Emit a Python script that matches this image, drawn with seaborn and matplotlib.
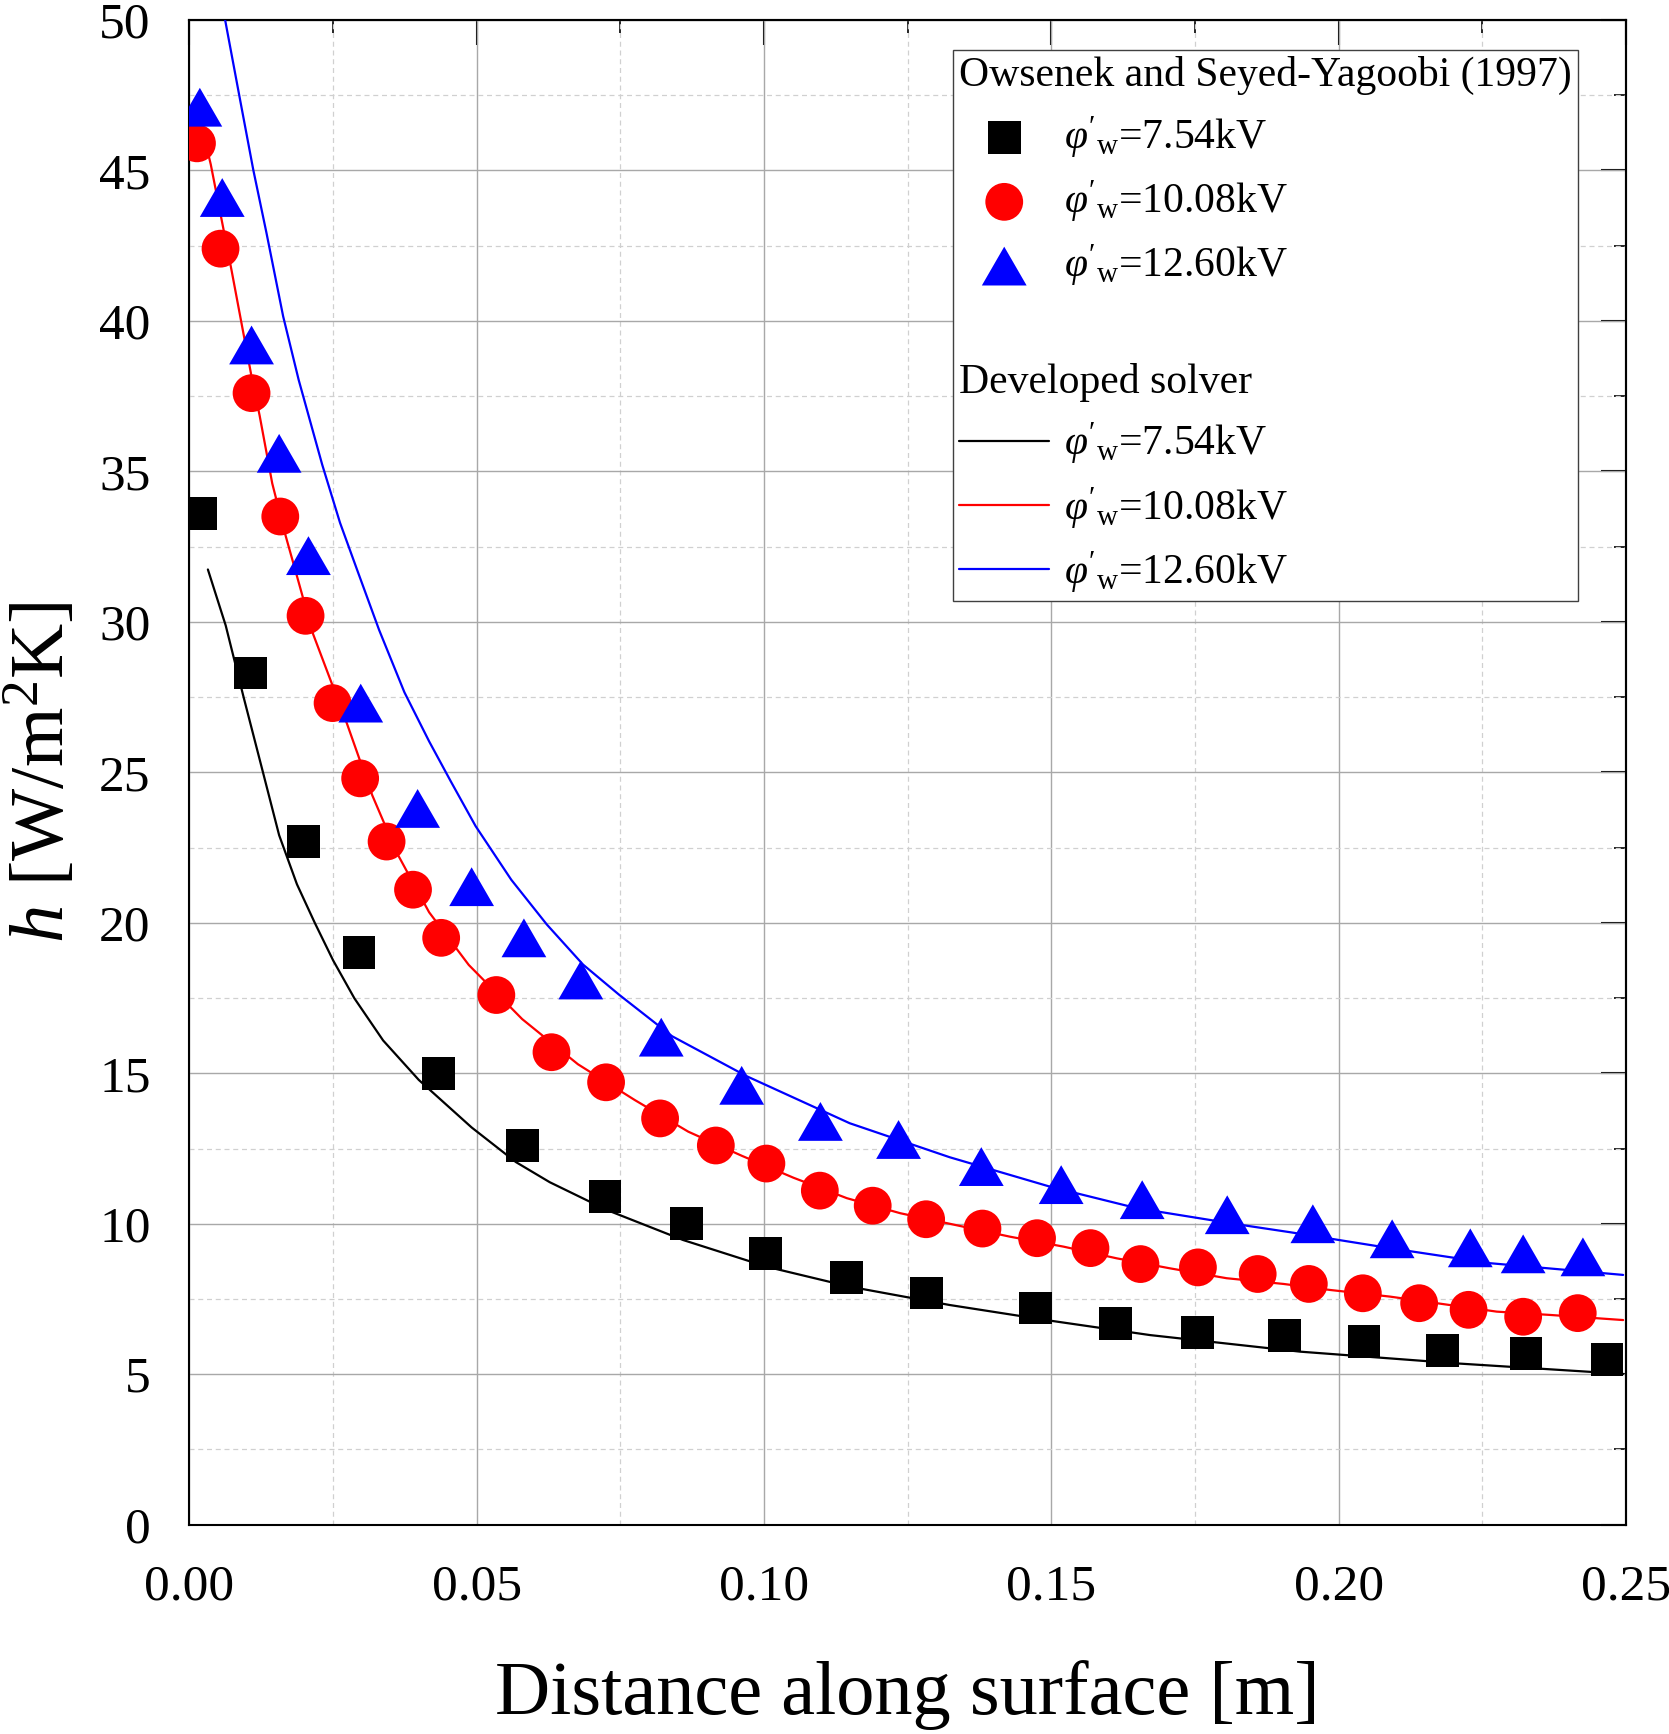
import matplotlib
matplotlib.use("Agg")
import matplotlib.pyplot as plt
import seaborn as sns
from matplotlib.lines import Line2D
from matplotlib.ticker import MultipleLocator, FormatStrFormatter

# Owsenek and Seyed-Yagoobi (1997) - measured points
exp_754_x = [0.0019, 0.0106, 0.0199, 0.0295, 0.0434, 0.0580, 0.0723, 0.0865, 0.1003, 0.1144,
             0.1282, 0.1473, 0.1612, 0.1755, 0.1905, 0.2044, 0.2181, 0.2326, 0.2467]
exp_754_h = [33.6, 28.3, 22.7, 19.0, 15.0, 12.6, 10.9, 10.0, 9.0, 8.2,
             7.7, 7.2, 6.7, 6.4, 6.3, 6.1, 5.8, 5.7, 5.5]

exp_1008_x = [0.0013, 0.0054, 0.0108, 0.0158, 0.0202, 0.0249, 0.0297, 0.0343, 0.0389, 0.0438,
              0.0534, 0.0630, 0.0725, 0.0819, 0.0916, 0.1004, 0.1097, 0.1189, 0.1282, 0.1380,
              0.1475, 0.1568, 0.1655, 0.1755, 0.1859, 0.1948, 0.2042, 0.2140, 0.2226, 0.2321, 0.2416]
exp_1008_h = [45.9, 42.4, 37.6, 33.5, 30.2, 27.3, 24.8, 22.7, 21.1, 19.5,
              17.6, 15.7, 14.7, 13.5, 12.6, 12.0, 11.1, 10.6, 10.15, 9.84,
              9.52, 9.19, 8.66, 8.55, 8.33, 8.0, 7.69, 7.36, 7.14, 6.91, 7.03]

exp_1260_x = [0.0018, 0.0057, 0.0108, 0.0156, 0.0207, 0.0298, 0.0397, 0.0491, 0.0582, 0.0681,
              0.0821, 0.0961, 0.1098, 0.1234, 0.1378, 0.1517, 0.1658, 0.1806, 0.1955, 0.2093,
              0.2229, 0.2321, 0.2425]
exp_1260_h = [47.1, 44.1, 39.2, 35.6, 32.2, 27.3, 23.8, 21.2, 19.5, 18.1,
              16.2, 14.6, 13.4, 12.8, 11.9, 11.3, 10.8, 10.3, 10.0, 9.5,
              9.2, 9.0, 8.9]

# Developed solver - curves
sim_754_x = [0.0032, 0.0063, 0.0094, 0.0128, 0.0156, 0.0187, 0.0218, 0.0250, 0.0287, 0.0337,
             0.0399, 0.0491, 0.0568, 0.0627, 0.0726, 0.0859, 0.1005, 0.1149, 0.1323, 0.1498,
             0.1672, 0.1933, 0.2205, 0.2495]
sim_754_h = [31.74, 29.88, 27.51, 24.99, 22.91, 21.28, 20.0, 18.75, 17.49, 16.09,
             14.78, 13.2, 12.05, 11.38, 10.46, 9.46, 8.57, 7.91, 7.30, 6.78,
             6.30, 5.75, 5.36, 5.01]

sim_1008_x = [0.0022, 0.0037, 0.0073, 0.0108, 0.0122, 0.0144, 0.0166, 0.0187, 0.0215, 0.0274,
              0.0318, 0.0361, 0.0417, 0.0486, 0.0579, 0.0676, 0.0775, 0.0868, 0.0961, 0.1051,
              0.1144, 0.1237, 0.1323, 0.1428, 0.1521, 0.1614, 0.1706, 0.1805, 0.1904, 0.1985,
              0.2089, 0.2182, 0.2275, 0.2368, 0.2495]
sim_1008_h = [46.4, 45.2, 41.7, 38.15, 36.86, 34.6, 32.95, 31.52, 29.6, 26.62,
              24.24, 22.32, 20.35, 18.6, 16.8, 15.3, 14.11, 13.06, 12.26, 11.53,
              10.85, 10.35, 10.0, 9.57, 9.24, 8.85, 8.52, 8.19, 8.0, 7.8,
              7.58, 7.33, 7.08, 6.97, 6.80]

sim_1260_x = [0.0055, 0.0062, 0.0088, 0.0111, 0.0134, 0.0163, 0.0190, 0.0231, 0.0262, 0.0293,
              0.0330, 0.0374, 0.0417, 0.0455, 0.0498, 0.0560, 0.0622, 0.0685, 0.0747, 0.0840,
              0.0970, 0.1149, 0.1323, 0.1498, 0.1648, 0.1817, 0.1915, 0.2089, 0.2263, 0.2495]
sim_1260_h = [50.8, 50.0, 47.35, 45.02, 42.92, 40.15, 38.04, 35.22, 33.29, 31.66,
              29.73, 27.66, 26.03, 24.69, 23.21, 21.43, 19.94, 18.61, 17.62, 16.23,
              14.90, 13.34, 12.21, 11.23, 10.52, 10.0, 9.72, 9.19, 8.69, 8.30]

series_labels = [r"$\varphi'_{\mathrm{w}}$=7.54kV",
                 r"$\varphi'_{\mathrm{w}}$=10.08kV",
                 r"$\varphi'_{\mathrm{w}}$=12.60kV"]
colors = ["black", "red", "blue"]

sns.set_style("white")
plt.rcParams["font.family"] = ["Liberation Serif", "DejaVu Serif"]
plt.rcParams["mathtext.fontset"] = "custom"
plt.rcParams["mathtext.rm"] = "Liberation Serif"
plt.rcParams["mathtext.it"] = "Liberation Serif:italic"
plt.rcParams["mathtext.bf"] = "Liberation Serif:bold"
for key in ("text.color", "axes.labelcolor", "xtick.color", "ytick.color"):
    plt.rcParams[key] = "black"

fig = plt.figure(figsize=(16.69, 17.34), dpi=100)
ax = fig.add_axes([0.11354, 0.1207, 0.8607, 0.8678])

# solver curves
sim = [(sim_754_x, sim_754_h), (sim_1008_x, sim_1008_h), (sim_1260_x, sim_1260_h)]
line_handles = []
for (xs, hs), c, lab in zip(sim, colors, series_labels):
    sns.lineplot(x=xs, y=hs, color=c, linewidth=1.6, ax=ax, sort=False,
                 estimator=None, zorder=3, label=lab, legend=False)
    line_handles.append(ax.lines[-1])

# experimental markers
tri = [(-22.5, -19.5), (22.5, -19.5), (0.0, 19.5)]
exp = [(exp_754_x, exp_754_h, "s", 560), (exp_1008_x, exp_1008_h, "o", 740),
       (exp_1260_x, exp_1260_h, tri, 1040)]
mark_handles = []
for (xs, hs, m, s), c, lab in zip(exp, colors, series_labels):
    sns.scatterplot(x=xs, y=hs, marker=m, s=s, color=c, edgecolor="none",
                    linewidth=0, ax=ax, zorder=4, label=lab, legend=False)
    mark_handles.append(ax.collections[-1])

ax.set_xlim(0, 0.25)
ax.set_ylim(0, 50)
ax.xaxis.set_major_locator(MultipleLocator(0.05))
ax.xaxis.set_minor_locator(MultipleLocator(0.025))
ax.yaxis.set_major_locator(MultipleLocator(5))
ax.yaxis.set_minor_locator(MultipleLocator(2.5))
ax.xaxis.set_major_formatter(FormatStrFormatter("%.2f"))

ax.set_axisbelow(True)
ax.grid(which="major", color="#a8a8a8", linewidth=1.0, linestyle="-")
ax.grid(which="minor", color="#d0d0d0", linewidth=0.9, linestyle=(0, (4, 3)))

for sp in ax.spines.values():
    sp.set_color("black")
    sp.set_linewidth(1.5)

ax.tick_params(which="both", direction="out", top=False, right=False,
               labelsize=37, pad=10, color="black")
ax.tick_params(which="major", length=18, width=1.5)
ax.tick_params(which="minor", length=9, width=1.2)

top = ax.secondary_xaxis("top")
top.xaxis.set_major_locator(MultipleLocator(0.05))
top.xaxis.set_minor_locator(MultipleLocator(0.025))
top.tick_params(which="both", direction="in", labeltop=False)
top.tick_params(which="major", length=18, width=1.5)
top.tick_params(which="minor", length=9, width=1.2)
right = ax.secondary_yaxis("right")
right.yaxis.set_major_locator(MultipleLocator(5))
right.yaxis.set_minor_locator(MultipleLocator(2.5))
right.tick_params(which="both", direction="in", labelright=False)
right.tick_params(which="major", length=18, width=1.5)
right.tick_params(which="minor", length=9, width=1.2)
for a in (top, right):
    for sp in a.spines.values():
        sp.set_linewidth(1.5)

ax.set_xlabel("Distance along surface [m]", fontsize=55, labelpad=36)
ax.set_ylabel(r"$h$ [W/m$^2$K]", fontsize=55, labelpad=14)

# legend with two group headers
blank = Line2D([], [], linestyle="none")
handles = [blank] + mark_handles + [blank, blank] + line_handles
labels = ["Owsenek and Seyed-Yagoobi (1997)"] + series_labels + \
         [" ", "Developed solver"] + series_labels
leg = ax.legend(handles, labels, loc="upper right", bbox_to_anchor=(0.9666, 0.980),
                borderaxespad=0, fontsize=30, handlelength=2.17, handletextpad=0.35,
                borderpad=0.15, labelspacing=0.44, scatterpoints=1, frameon=True,
                fancybox=False, framealpha=1, edgecolor="#404040")
leg.get_frame().set_linewidth(1.0)
items = leg._legend_handle_box.get_children()[0].get_children()
for i in (0, 4, 5):
    del items[i].get_children()[0]

fig.savefig("out.png", dpi=100)
